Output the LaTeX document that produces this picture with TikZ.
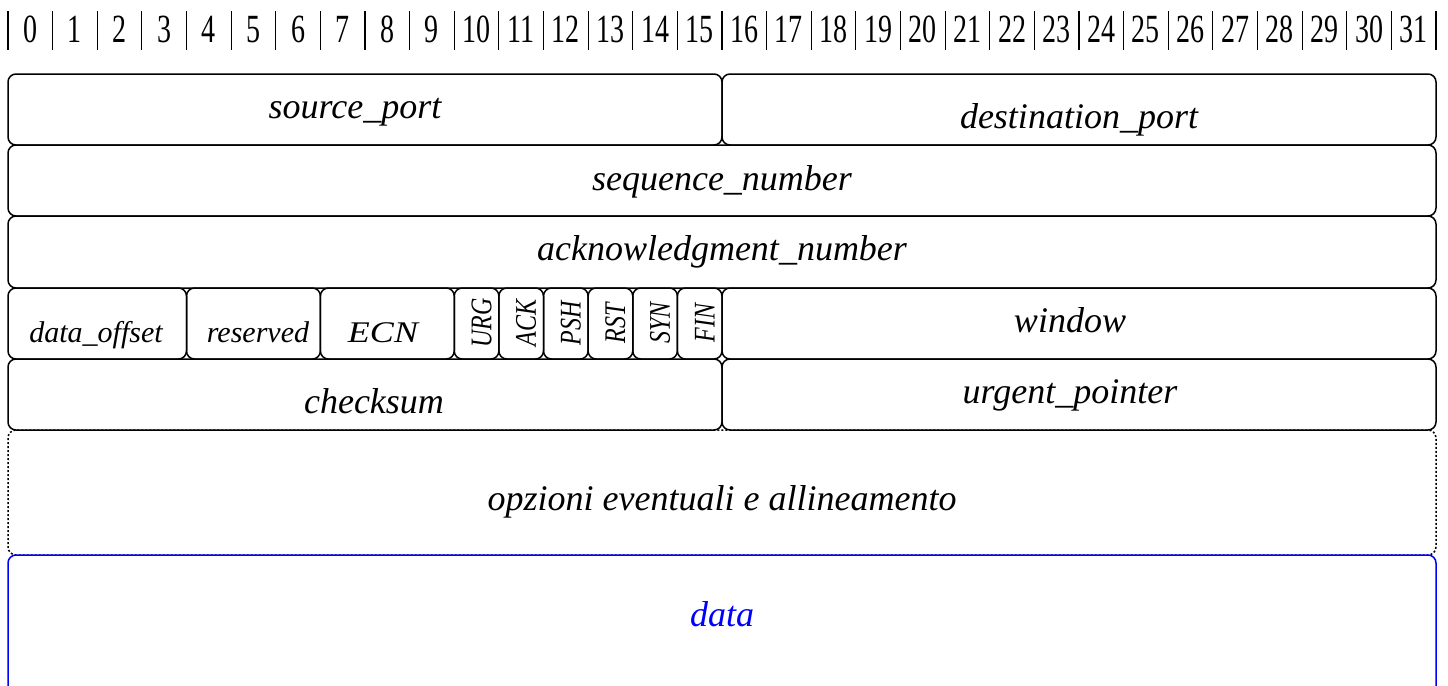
\documentclass[tikz,border=0pt]{standalone}
\usepackage{fontspec}
\setmainfont{Liberation Serif}
\definecolor{datablue}{RGB}{0,0,255}
\begin{document}
\begin{tikzpicture}[x=0.5pt,y=-0.5pt,
  field/.style={draw=black,line width=0.75pt,rounded corners=4pt},
  optbox/.style={draw=black,line width=0.75pt,rounded corners=4pt,dash pattern=on 1pt off 1pt},
  databox/.style={draw=datablue,line width=0.75pt,rounded corners=4pt},
  lbl/.style={anchor=base,inner sep=0pt,font=\fontsize{18}{20}\selectfont\itshape},
  smalllbl/.style={anchor=base,inner sep=0pt,font=\fontsize{15}{17}\selectfont\itshape},
  flaglbl/.style={anchor=center,inner sep=0pt,rotate=90,font=\fontsize{15}{17}\selectfont\itshape},
  digit/.style={anchor=base,inner sep=0pt,font=\fontsize{20}{22}\selectfont},
  bar/.style={line width=0.6pt}]
\clip (0,0) rectangle (1448,686);
% header
\foreach \k in {0,...,31}{
  \pgfmathsetmacro{\cx}{8+44.625*(\k+0.5)}
  \node[digit] (d\k) at (\cx,42) {\scalebox{0.7}[1]{\k}};
}
\foreach \k in {0,...,32}{
  \pgfmathsetmacro{\bx}{8+44.625*\k}
  \draw[bar] (\bx,11) -- (\bx,50);
}
% options and data
\draw[optbox] (8,430) rectangle (1436,555);
\draw[databox] (8,555) rectangle (1436,760);
% rows
\draw[field] (8,74) rectangle (722,145);
\draw[field] (722,74) rectangle (1436,145);
\draw[field] (8,145) rectangle (1436,216);
\draw[field] (8,216) rectangle (1436,288);
\draw[field] (8,288) rectangle (186.5,359);
\draw[field] (186.5,288) rectangle (320.4,359);
\draw[field] (320.4,288) rectangle (454.25,359);
\draw[field] (454.25,288) rectangle (498.9,359);
\draw[field] (498.9,288) rectangle (543.5,359);
\draw[field] (543.5,288) rectangle (588.1,359);
\draw[field] (588.1,288) rectangle (632.75,359);
\draw[field] (632.75,288) rectangle (677.4,359);
\draw[field] (677.4,288) rectangle (722,359);
\draw[field] (722,288) rectangle (1436,359);
\draw[field] (8,359) rectangle (722,430);
\draw[field] (722,359) rectangle (1436,430);
% labels
\node[lbl] (sp) at (355,118) {source\_port};
\node[lbl] (dp) at (1079,128) {destination\_port};
\node[lbl] (sn) at (722,190) {sequence\_number};
\node[lbl] (an) at (722,260) {acknowledgment\_number};
\node[smalllbl] (do) at (96,342) {data\_offset};
\node[smalllbl] (rs) at (258,342) {reserved};
\node[smalllbl] (ecn) at (383,342) {\scalebox{1.2}[1]{ECN}};
\node[flaglbl] (urg) at (481.5,323) {\scalebox{0.8}[1]{URG}};
\node[flaglbl] (ack) at (526.2,323) {\scalebox{0.8}[1]{ACK}};
\node[flaglbl] (psh) at (570.8,323) {\scalebox{0.8}[1]{PSH}};
\node[flaglbl] (rst) at (615.4,323) {\scalebox{0.8}[1]{RST}};
\node[flaglbl] (syn) at (660.1,323) {\scalebox{0.8}[1]{SYN}};
\node[flaglbl] (fin) at (704.7,323) {\scalebox{0.8}[1]{FIN}};
\node[lbl] (win) at (1070,332) {window};
\node[lbl] (cs) at (374,413) {checksum};
\node[lbl] (up) at (1070,403) {urgent\_pointer};
\node[lbl] (opt) at (722,510) {opzioni eventuali e allineamento};
\node[lbl,text=datablue] (data) at (722,626) {data};
\end{tikzpicture}
\end{document}
